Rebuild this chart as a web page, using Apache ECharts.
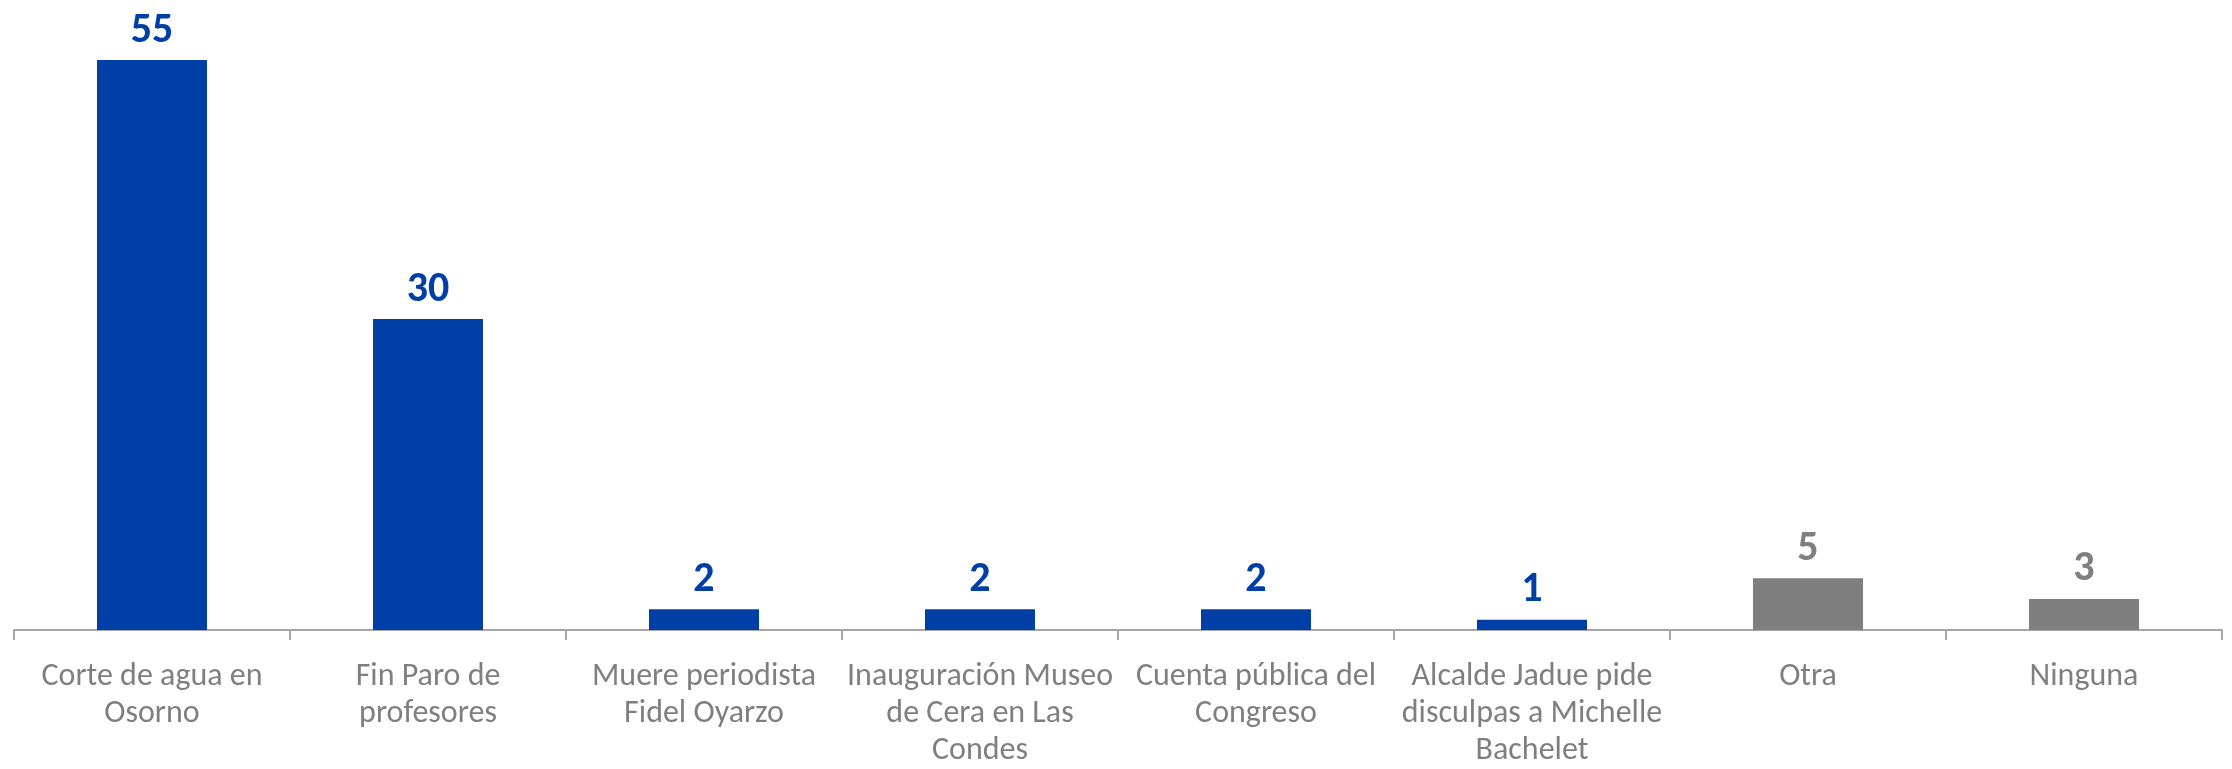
<!DOCTYPE html>
<html>
<head>
<meta charset="utf-8">
<script src="https://cdn.jsdelivr.net/npm/echarts@6/dist/echarts.min.js"></script>
<style>
html,body{margin:0;padding:0;background:#fff;}
#chart{width:2232px;height:769px;}
</style>
</head>
<body>
<div id="chart"></div>
<script>
const categories = [
  "Corte de agua en\nOsorno",
  "Fin Paro de\nprofesores",
  "Muere periodista\nFidel Oyarzo",
  "Inauguración Museo\nde Cera en Las\nCondes",
  "Cuenta pública del\nCongreso",
  "Alcalde Jadue pide\ndisculpas a Michelle\nBachelet",
  "Otra",
  "Ninguna"
];
const values = [55, 30, 2, 2, 2, 1, 5, 3];
const barColors = ["#003FA6", "#003FA6", "#003FA6", "#003FA6", "#003FA6", "#003FA6", "#7F7F7F", "#7F7F7F"];

const chart = echarts.init(document.getElementById('chart'), null, {renderer: 'canvas'});
const textFont = "Carlito, Calibri, 'Liberation Sans Narrow', sans-serif";
chart.setOption({
  animation: false,
  backgroundColor: '#ffffff',
  grid: {left: 14, right: 10, top: 60, bottom: 133, containLabel: false},
  xAxis: {
    type: 'category',
    data: categories,
    axisLine: {show: true, lineStyle: {color: '#A6A6A6', width: 2}},
    axisTick: {show: true, length: 10, interval: 0, alignWithLabel: false, lineStyle: {color: '#A6A6A6', width: 2}},
    axisLabel: {
      interval: 0,
      margin: 28,
      color: '#7F7F7F',
      fontFamily: textFont,
      fontSize: 32,
      lineHeight: 37
    },
    splitLine: {show: false}
  },
  yAxis: {
    type: 'value',
    min: 0,
    max: 55,
    show: false,
    splitLine: {show: false}
  },
  series: [{
    type: 'bar',
    barWidth: 110,
    data: values.map((v, i) => ({
      value: v,
      itemStyle: {color: barColors[i]},
      label: {color: barColors[i]}
    })),
    label: {
      show: true,
      position: 'top',
      distance: 8,
      fontFamily: textFont,
      fontWeight: 'bold',
      fontSize: 42
    }
  }]
});
</script>
</body>
</html>
